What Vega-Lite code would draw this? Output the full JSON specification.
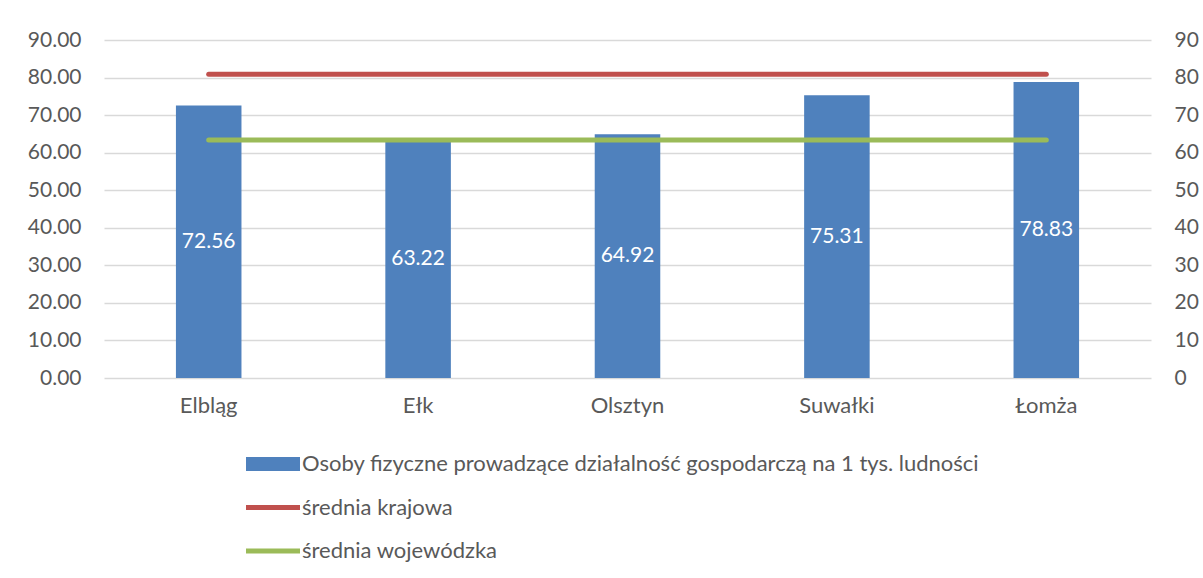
{
  "$schema": "https://vega.github.io/schema/vega-lite/v6.json",
  "width": 1047,
  "height": 338,
  "autosize": "none",
  "padding": {"left": 104, "top": 40, "right": 52, "bottom": 200},
  "background": "white",
  "config": {
    "view": {"stroke": null},
    "font": "Lato",
    "axis": {"labelFont": "Lato", "labelColor": "#595959", "labelFontSize": 21, "domain": false, "ticks": false, "titleFontSize": 0},
    "legend": {"labelFont": "Lato", "labelColor": "#595959", "labelFontSize": 22}
  },
  "data": {
    "values": [
      {"city": "Elbląg", "value": 72.56, "series": "Osoby fizyczne prowadzące działalność gospodarczą na 1 tys. ludności"},
      {"city": "Ełk", "value": 63.22, "series": "Osoby fizyczne prowadzące działalność gospodarczą na 1 tys. ludności"},
      {"city": "Olsztyn", "value": 64.92, "series": "Osoby fizyczne prowadzące działalność gospodarczą na 1 tys. ludności"},
      {"city": "Suwałki", "value": 75.31, "series": "Osoby fizyczne prowadzące działalność gospodarczą na 1 tys. ludności"},
      {"city": "Łomża", "value": 78.83, "series": "Osoby fizyczne prowadzące działalność gospodarczą na 1 tys. ludności"},
      {"city": "Elbląg", "value": 80.9, "series": "średnia krajowa"},
      {"city": "Ełk", "value": 80.9, "series": "średnia krajowa"},
      {"city": "Olsztyn", "value": 80.9, "series": "średnia krajowa"},
      {"city": "Suwałki", "value": 80.9, "series": "średnia krajowa"},
      {"city": "Łomża", "value": 80.9, "series": "średnia krajowa"},
      {"city": "Elbląg", "value": 63.4, "series": "średnia wojewódzka"},
      {"city": "Ełk", "value": 63.4, "series": "średnia wojewódzka"},
      {"city": "Olsztyn", "value": 63.4, "series": "średnia wojewódzka"},
      {"city": "Suwałki", "value": 63.4, "series": "średnia wojewódzka"},
      {"city": "Łomża", "value": 63.4, "series": "średnia wojewódzka"}
    ]
  },
  "encoding": {
    "x": {
      "field": "city", "type": "nominal", "sort": null, "title": null,
      "scale": {"paddingInner": 0.687, "paddingOuter": 0.3435},
      "axis": {"labelAngle": 0, "labelPadding": 17, "labelFontSize": 22, "grid": false}
    }
  },
  "layer": [
    {
      "transform": [{"filter": "datum.series === 'Osoby fizyczne prowadzące działalność gospodarczą na 1 tys. ludności'"}],
      "encoding": {
        "y": {
          "field": "value", "type": "quantitative", "title": null,
          "scale": {"domain": [0, 90], "nice": false},
          "axis": {"orient": "left", "values": [0,10,20,30,40,50,60,70,80,90], "format": ".2f", "labelPadding": 23, "grid": true, "gridColor": "#D9D9D9", "gridWidth": 1.3}
        }
      },
      "layer": [
        {
          "mark": {"type": "bar"},
          "encoding": {
            "color": {
              "field": "series", "type": "nominal",
              "scale": {
                "domain": ["Osoby fizyczne prowadzące działalność gospodarczą na 1 tys. ludności", "średnia krajowa", "średnia wojewódzka"],
                "range": ["#4F81BD", "#C0504D", "#9BBB59"]
              },
              "legend": {
                "orient": "none", "legendX": 142, "legendY": 397, "direction": "vertical",
                "title": null, "rowPadding": 5.5, "labelOffset": 2, "labelLimit": 0,
                "symbolSize": 2916, "symbolStrokeWidth": 0,
                "encode": {
                  "symbols": {
                    "update": {
                      "shape": {"signal": "datum.index === 0 ? 'M-1,-0.26H1V0.26H-1Z' : 'M-1,-0.09H1V0.09H-1Z'"},
                      "fill": {"scale": "color", "field": "value"},
                      "strokeWidth": {"value": 0}
                    }
                  }
                }
              }
            }
          }
        },
        {
          "transform": [{"calculate": "datum.value / 2", "as": "mid"}],
          "mark": {"type": "text", "color": "white", "fontSize": 21, "font": "Lato", "baseline": "middle"},
          "encoding": {
            "y": {"field": "mid", "type": "quantitative"},
            "text": {"field": "value", "type": "quantitative", "format": ".2f"}
          }
        }
      ]
    },
    {
      "transform": [{"filter": "datum.series !== 'Osoby fizyczne prowadzące działalność gospodarczą na 1 tys. ludności'"}],
      "mark": {"type": "line", "strokeWidth": 5, "strokeCap": "round"},
      "encoding": {
        "y": {
          "field": "value", "type": "quantitative", "title": null,
          "scale": {"domain": [0, 90], "nice": false},
          "axis": {"orient": "right", "values": [0,10,20,30,40,50,60,70,80,90], "format": "d", "labelPadding": 23, "grid": false}
        },
        "color": {"field": "series", "type": "nominal"},
        "detail": {"field": "series"}
      }
    }
  ],
  "resolve": {"scale": {"y": "independent"}, "axis": {"y": "independent"}}
}
